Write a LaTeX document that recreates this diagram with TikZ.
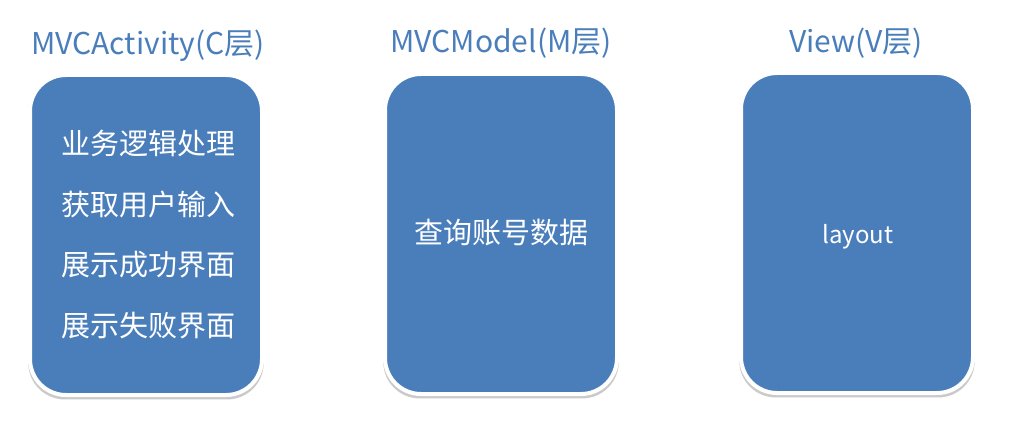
\documentclass[tikz,border=0pt]{standalone}
\usepackage{fontspec}
\setmainfont{Noto Sans CJK SC}
\usepackage{xcolor}
\usetikzlibrary{positioning,shadows}

\definecolor{layerblue}{HTML}{4A7EBB}

\begin{document}
\begin{tikzpicture}[x=1pt, y=-1pt,
    layer box/.style={rectangle, rounded corners=36pt, fill=layerblue, draw=white,
      line width=4pt, minimum width=232pt, minimum height=320pt,
      drop shadow={shadow scale=1.015, shadow xshift=0pt, shadow yshift=-2pt,
        opacity=0.35, fill=black!60}},
    layer title/.style={text=layerblue, font=\fontsize{30}{30}\selectfont, anchor=base},
    box text/.style={text=white, font=\fontsize{29}{29}\selectfont}]

  \useasboundingbox (0,0) rectangle (1028,430);

  \node[layer box] (c) at (146,235) {};
  \node[layer box] (m) at (501,234) {};
  \node[layer box] (v) at (857,233) {};

  \node[layer title] (ct) at (148,55) {MVCActivity(C层)};
  \node[layer title] (mt) at (501,53) {MVCModel(M层)};
  \node[layer title] (vt) at (856,53) {View(V层)};

  \node[box text] (c1) at (148,143) {业务逻辑处理};
  \node[box text] (c2) at (148,204) {获取用户输入};
  \node[box text] (c3) at (148,265) {展示成功界面};
  \node[box text] (c4) at (148,326) {展示失败界面};

  \node[box text] (m1) at (501,233) {查询账号数据};
  \node[box text, font=\fontsize{24}{24}\selectfont] (v1) at (858,237) {layout};
\end{tikzpicture}
\end{document}
